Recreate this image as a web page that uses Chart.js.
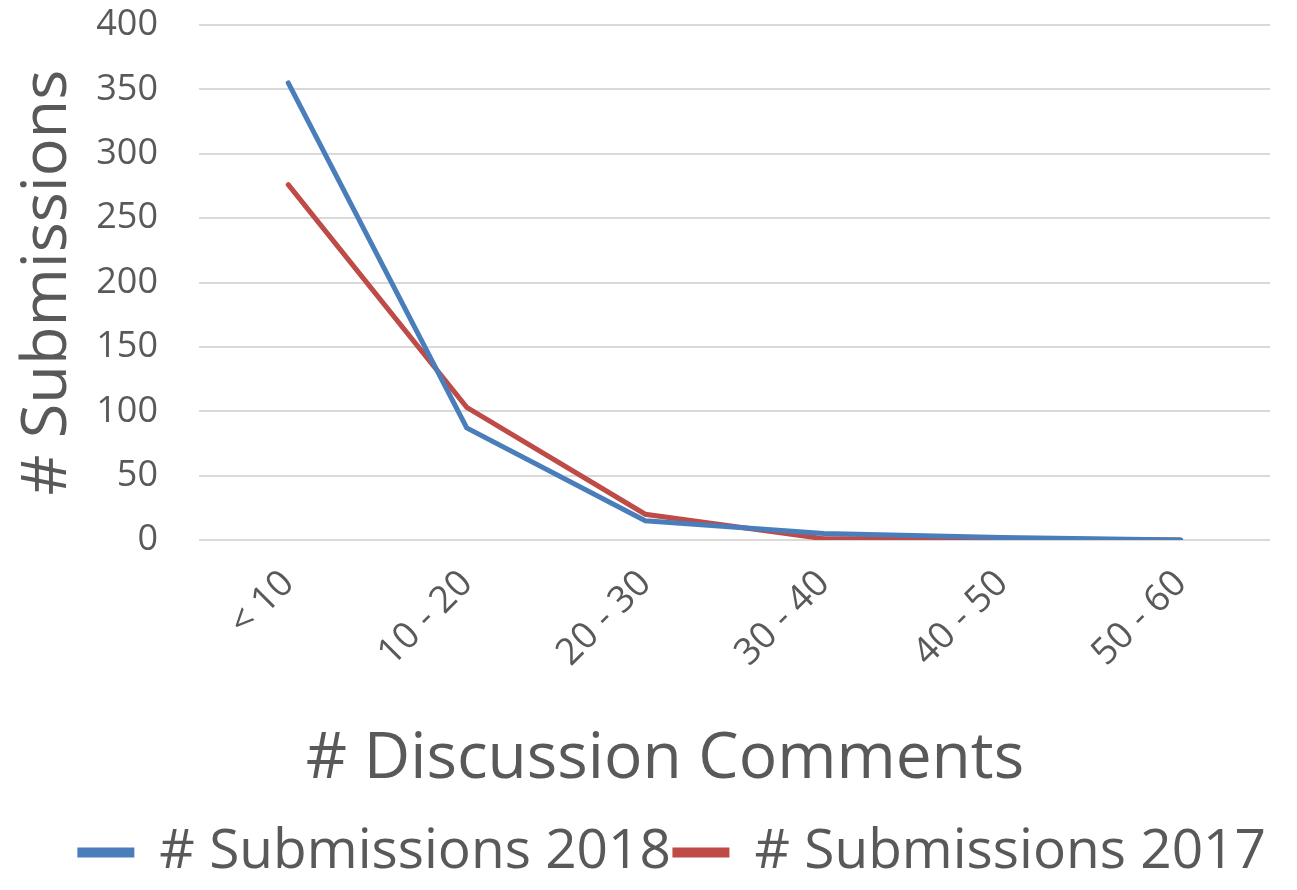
<!DOCTYPE html>
<html>
<head>
<meta charset="utf-8">
<script src="https://cdn.jsdelivr.net/npm/chart.js@4"></script>
<style>
  html, body { margin: 0; padding: 0; background: #fff; }
  #wrap { width: 1297px; height: 890px; position: relative; }
</style>
</head>
<body>
<div id="wrap"><canvas id="chart"></canvas></div>
<script>
// categories and series
const categories = ['< 10', '10 - 20', '20 - 30', '30 - 40', '40 - 50', '50 - 60'];
const subs2018 = [355, 87, 15, 5, 2, 0];
const subs2017 = [276, 103, 20, 1, 1, 0];
const yTicks = { min: 0, max: 400, step: 50 };
const xTitle = '# Discussion Comments';

const FONT = "'Open Sans', 'DejaVu Sans', sans-serif";
const GREY = '#595959';

// x axis title sits left of the plot centre in the original, so draw it ourselves
const xTitlePlugin = {
    id: 'xTitle',
    afterDraw(chart) {
        const ctx = chart.ctx;
        ctx.save();
        ctx.fillStyle = GREY;
        ctx.font = `64px ${FONT}`;
        ctx.textAlign = 'center';
        ctx.textBaseline = 'middle';
        ctx.fillText(xTitle, 665, 760);
        ctx.restore();
    }
};

new Chart(document.getElementById('chart'), {
    type: 'line',
    data: {
        labels: categories,
        datasets: [
            {
                label: '# Submissions 2018',
                data: subs2018,
                borderColor: '#4a7ebb',
                backgroundColor: '#4a7ebb',
                borderWidth: 5,
                pointRadius: 0,
                tension: 0,
                borderCapStyle: 'round'
            },
            {
                label: '# Submissions 2017',
                data: subs2017,
                borderColor: '#be4b48',
                backgroundColor: '#be4b48',
                borderWidth: 5,
                pointRadius: 0,
                tension: 0,
                borderCapStyle: 'round'
            }
        ]
    },
    options: {
        responsive: true,
        maintainAspectRatio: false,
        animation: false,
        layout: { padding: { left: 10, right: 27, top: 25, bottom: 0 } },
        plugins: {
            tooltip: { enabled: false },
            legend: {
                position: 'bottom',
                align: 'end',
                labels: {
                    color: GREY,
                    font: { family: FONT, size: 55 },
                    boxWidth: 52,
                    boxHeight: 5,
                    padding: 4
                }
            }
        },
        scales: {
            x: {
                offset: true,
                grid: { display: false },
                border: { display: false },
                ticks: {
                    color: GREY,
                    font: { family: FONT, size: 37 },
                    minRotation: 45,
                    maxRotation: 45,
                    padding: 14
                },
                afterFit(scale) { scale.height = 281; }
            },
            y: {
                min: yTicks.min,
                max: yTicks.max,
                grid: { color: '#d9d9d9', lineWidth: 2, drawTicks: true, tickLength: 41, tickColor: 'rgba(0,0,0,0)' },
                border: { display: false },
                ticks: {
                    stepSize: yTicks.step,
                    color: GREY,
                    font: { family: FONT, size: 36 },
                    padding: 0
                },
                title: {
                    display: true,
                    text: '# Submissions',
                    color: GREY,
                    font: { family: FONT, size: 63 },
                    padding: 0
                },
                afterFit(scale) { scale.width = 189; }
            }
        }
    },
    plugins: [xTitlePlugin]
});
</script>
</body>
</html>
